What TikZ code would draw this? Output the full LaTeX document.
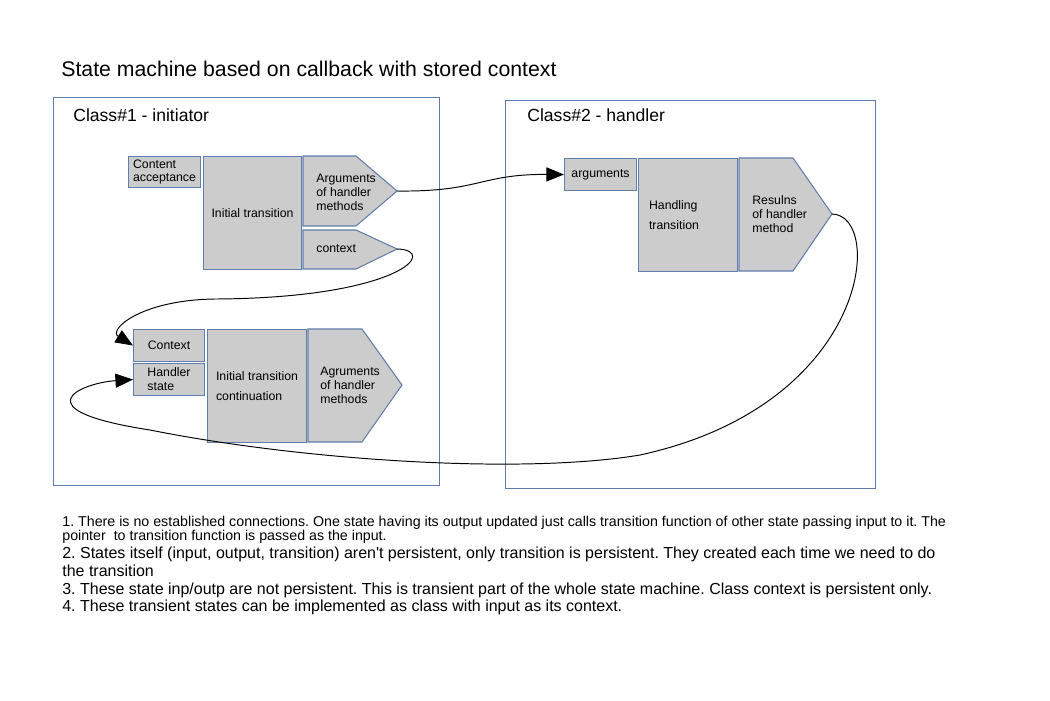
\documentclass[tikz,border=0pt]{standalone}
\usepackage{fontspec}
\setmainfont{Liberation Sans}
\usepackage{tikz}
\usetikzlibrary{arrows.meta}
\definecolor{edgeblue}{RGB}{96,126,172}
\definecolor{boxgray}{RGB}{204,204,204}
\frenchspacing

\begin{document}
\begin{tikzpicture}[x=0.02cm,y=-0.02cm,>={Triangle[length=10pt,width=8pt]},line cap=round,
  frame/.style={draw=edgeblue,line width=0.5pt},
  box/.style={draw=edgeblue,fill=boxgray,line width=0.6pt,inner sep=0pt,anchor=north west,align=left,
    font=\fontsize{7}{7.9}\selectfont},
  wh/.style 2 args={minimum width=#1*0.02cm,minimum height=#2*0.02cm},
  lbl/.style={inner sep=0pt,anchor=west,align=left,font=\fontsize{7}{7.9}\selectfont},
  note/.style={inner sep=0pt,anchor=base west},
  link/.style={->,line width=0.55pt}]
\useasboundingbox (0,0) rectangle (1050,700);
\node[note,font=\fontsize{12.1}{14}\selectfont] (title) at (61,76) {State machine based on callback with stored context};
% class frames
\draw[frame] (53,97) rectangle (439,485);
\draw[frame] (505,100) rectangle (875,488);
\node[note,font=\fontsize{10}{12}\selectfont] (cls1) at (73,121) {Class\#1 - initiator};
\node[note,font=\fontsize{10}{12}\selectfont] (cls2) at (527,121.5) {Class\#2 - handler};
% initiator, first part
\node[box,wh={72}{31}] (cAcc) at (128,156) {Content\\acceptance};
\node[box,wh={98}{113}] (iniT) at (203,156) {Initial transition};
\draw[box] (303,156) -- (356,156) -- (397,191) -- (356,226) -- (303,226) -- cycle;
\coordinate (argsOut) at (397,191);
\node[lbl] (argsTxt) at (316,192) {Arguments\\of handler\\methods};
\draw[box] (303,230) -- (356,230) -- (397,249) -- (356,269) -- (303,269) -- cycle;
\coordinate (ctxOut) at (397,249);
\node[lbl] (ctxTxt) at (316,249) {context};
% initiator, continuation
\node[box,wh={71}{32}] (ctxIn) at (133,329) {Context};
\node[box,wh={71}{32}] (hState) at (133,363) {Handler\\state};
\node[box,wh={99}{113}] (iniC) at (207,329) {Initial transition\\[3.5pt]continuation};
\draw[box] (308,329) -- (362,329) -- (402,385) -- (362,442) -- (308,442) -- cycle;
\node[lbl] (agrTxt) at (320,385) {Agruments\\of handler\\methods};
% handler
\node[box,wh={72}{32}] (argIn) at (564,158) {arguments};
\node[box,wh={99}{113},text width=78*0.02cm] (hTr) at (638,158) {Handling\\[3.5pt]transition};
\draw[box] (739,158) -- (793,158) -- (832,214) -- (793,271) -- (739,271) -- cycle;
\coordinate (resOut) at (832,214);
\node[lbl] (resTxt) at (752,214) {Resulns\\of handler\\method};
% callbacks
\draw[link] (argsOut) .. controls (480,192) and (480,174) .. (argIn.west);
\draw[link] (ctxOut) .. controls (440,250) and (400,298) .. (215,299)
  .. controls (140,300) and (108,330) .. (ctxIn.west);
\draw[link] (resOut) .. controls (885,215) and (870,405) .. (640,455)
  .. controls (520,475) and (300,460) .. (150,430)
  .. controls (20,410) and (80,383) .. (hState.west);
% notes
\node[note,font=\fontsize{8.1}{9}\selectfont] (n1) at (62,526) {1. There is no established connections. One state having its output updated just calls transition function of other state passing input to it. The};
\node[note,font=\fontsize{8.1}{9}\selectfont] (n1b) at (62,540) {pointer\ \ to transition function is passed as the input.};
\node[note,font=\fontsize{9.1}{11}\selectfont] (n2) at (62,558) {2. States itself (input, output, transition) aren\textquotesingle t persistent, only transition is persistent. They created each time we need to do};
\node[note,font=\fontsize{9.1}{11}\selectfont] (n2b) at (62,576) {the transition};
\node[note,font=\fontsize{9.1}{11}\selectfont] (n3) at (62,594) {3. These state inp/outp are not persistent. This is transient part of the whole state machine. Class context is persistent only.};
\node[note,font=\fontsize{9.1}{11}\selectfont] (n4) at (62,611.5) {4. These transient states can be implemented as class with input as its context.};
\end{tikzpicture}
\end{document}
